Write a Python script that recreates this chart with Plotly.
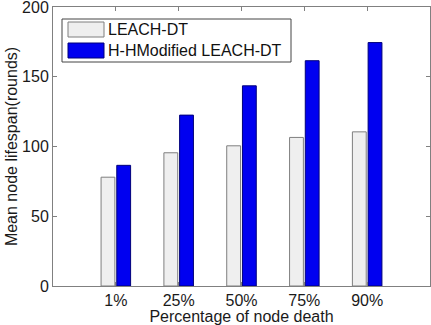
import plotly.graph_objects as go

categories = ["1%", "25%", "50%", "75%", "90%"]
leach_dt = [78, 95.5, 100.5, 106.5, 110.5]
h_hmodified = [86.5, 122.5, 143.5, 161.5, 174.5]
y_ticks = [0, 50, 100, 150, 200]
series_names = ["LEACH-DT", "H-HModified LEACH-DT"]
series_fill = ["#efefef", "#0000f0"]
series_edge = ["#7f7f7f", "#00007a"]

FONT = "Liberation Sans, Arial, sans-serif"
L, R, T, B = 53, 1, 7, 39
W, H = 431, 325
PW, PH = W - L - R, H - T - B


def px_x(px):
    return (px - L) / PW


def px_y(py):
    return (H - B - py) / PH


fig = go.Figure()
for name, vals, fill, edge in zip(series_names, [leach_dt, h_hmodified], series_fill, series_edge):
    fig.add_trace(go.Bar(
        x=categories, y=vals, name=name, showlegend=False,
        marker=dict(color=fill, line=dict(color=edge, width=1)),
    ))

# manual legend (box, swatches, labels)
shapes = [dict(type="rect", xref="paper", yref="paper",
               x0=px_x(62), x1=px_x(291), y0=px_y(62), y1=px_y(19),
               line=dict(color="#444444", width=1), fillcolor="white", layer="above")]
annotations = []
for i, (name, fill, edge) in enumerate(zip(series_names, series_fill, series_edge)):
    top = 22 + i * 21
    shapes.append(dict(type="rect", xref="paper", yref="paper",
                       x0=px_x(68), x1=px_x(104), y0=px_y(top + 15), y1=px_y(top),
                       line=dict(color=edge, width=1), fillcolor=fill, layer="above"))
    annotations.append(dict(xref="paper", yref="paper", x=px_x(106), y=px_y(top + 7.5),
                            xanchor="left", yanchor="middle", text=name, showarrow=False,
                            font=dict(size=16, family=FONT, color="#111111")))

fig.update_layout(
    width=W, height=H,
    margin=dict(l=L, r=R, t=T, b=B),
    paper_bgcolor="white", plot_bgcolor="white",
    font=dict(family=FONT, size=16, color="#1a1a1a"),
    barmode="group", bargap=0.5, bargroupgap=0.12,
    showlegend=False,
    shapes=shapes, annotations=annotations,
)
fig.update_xaxes(
    type="category", range=[-1, 5], automargin=False,
    showline=True, linecolor="#808080", linewidth=1, mirror="ticks",
    ticks="inside", ticklen=4, tickcolor="#808080",
    showgrid=False, zeroline=False,
    title=dict(text="Percentage of node death", standoff=0, font=dict(size=16)),
    tickfont=dict(size=16), ticklabeloverflow="allow",
)
fig.update_yaxes(
    range=[0, 200], tickvals=y_ticks, automargin=False,
    showline=True, linecolor="#808080", linewidth=1, mirror="ticks",
    ticks="inside", ticklen=4, tickcolor="#808080",
    showgrid=False, zeroline=False,
    title=dict(text="Mean node lifespan(rounds)", standoff=0, font=dict(size=16)),
    tickfont=dict(size=16), ticklabeloverflow="allow",
)

fig.write_html("out.html", config={"displayModeBar": False},
               post_script="document.body.style.margin='0';document.body.style.overflow='hidden';")
